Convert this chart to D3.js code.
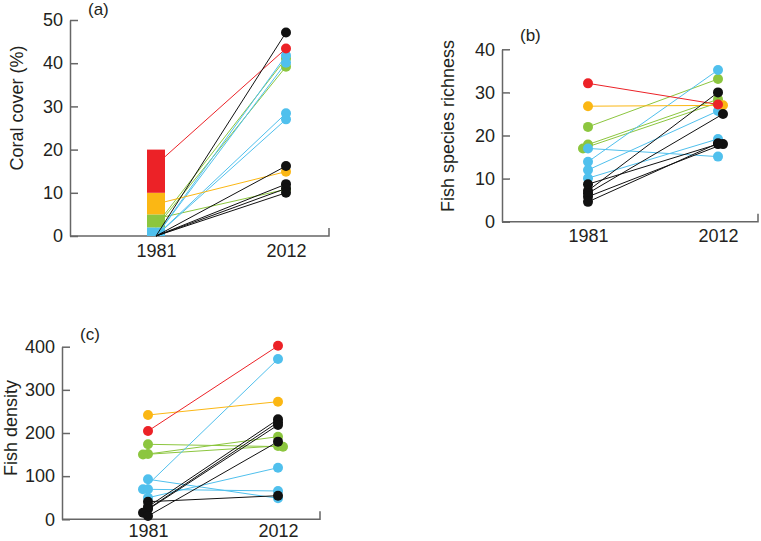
<!DOCTYPE html>
<html>
<head>
<meta charset="utf-8">
<script src="https://cdn.jsdelivr.net/npm/d3@7"></script>
<style>
  html, body { margin: 0; padding: 0; background: #fff; }
  svg { display: block; font-family: "Liberation Sans", Arial, Helvetica, sans-serif; }
</style>
</head>
<body>
<svg id="chart" width="761" height="541"></svg>
<script>
// ---------------- DATA ----------------
const years = ["1981", "2012"];
// site group (colour class) for each of the 14 sites
const siteGroups = ["red", "yellow", "green", "green", "green", "blue", "blue", "blue", "blue", "black", "black", "black", "black", "black"];

// (a) coral cover (%)
const coral1981 = [16.5, 7.4, 4.0, 2.5, 2.0, 0, 0, 0, 0, 0, 0, 0, 0, 0];
const coral2012 = [43.4, 14.9, 10.8, 41.1, 39.2, 41.8, 40.1, 28.4, 27.0, 47.1, 16.2, 12.0, 11.0, 10.0];
// 1981 coral cover classes shown as a stacked bar
const coralClassBounds = [0, 2, 5, 10, 20];
const coralClassGroups = ["blue", "green", "yellow", "red"];
const coralTicks = [0, 10, 20, 30, 40, 50];

// (b) fish species richness
const rich1981 = [32.1, 26.8, 22.0, 17.9, 17.0, 17.0, 13.9, 12.0, 10.1, 8.7, 7.2, 6.6, 5.8, 4.6];
const rich2012 = [27.2, 27.0, 33.1, 28.4, 27.6, 15.1, 35.2, 25.7, 19.2, 18.0, 30.0, 25.0, 18.0, 18.2];
const rich1981Dodge = [0, 0, 0, 0, -1, 0, 0, 0, 0, 0, 0, 0, 0, 0];
const rich2012Dodge = [0, 1, 0, 0, 0, 0, 0, 0, 0, 0, 0, 1, 1, 0];
const richTicks = [0, 10, 20, 30, 40];

// (c) fish density
const dens1981 = [204.6, 241.7, 173.8, 151.3, 150.0, 92.7, 69.5, 69.5, 50.0, 40.8, 29.0, 24.0, 15.3, 7.6];
const dens2012 = [402.0, 272.6, 168.3, 191.5, 170.0, 48.7, 371.5, 65.6, 119.6, 54.7, 231.7, 225.0, 218.5, 180.0];
const dens1981Dodge = [0, 0, 0, 0, -1, 0, -1, 0, 0, 0, 0, 0, -1, 0];
const dens2012Dodge = [0, 0, 1, 0, 0, 0, 0, 0, 0, 0, 0, 0, 0, 0];
const densTicks = [0, 100, 200, 300, 400];

// ---------------- STYLE ----------------
const palette = { red: "#ec2227", yellow: "#fbb714", green: "#8cc63f", blue: "#50c0ed", black: "#111111" };
const drawOrder = ["green", "blue", "yellow", "red", "black"];
const axisColor = "#666";
const textColor = "#231f20";

const svg = d3.select("#chart");

function panel(cfg) {
  const g = svg.append("g");
  const y = d3.scaleLinear().domain(cfg.domain).range([cfg.y0, cfg.y1]);
  const x = d3.scalePoint().domain(years).range([cfg.ax + 86, cfg.ax + 216]);
  const dodge = d3.scaleLinear().domain([-1, 1]).range([-5, 5]);

  // y axis
  const ya = g.append("g").attr("transform", `translate(${cfg.ax},0)`)
    .call(d3.axisLeft(y).tickValues(cfg.ticks).tickSizeInner(-8).tickSizeOuter(0).tickPadding(7));
  ya.select(".domain").attr("stroke", axisColor).attr("stroke-width", 1.5);
  ya.selectAll(".tick line").attr("stroke", axisColor).attr("stroke-width", 1.5);
  ya.selectAll(".tick text").attr("font-size", 18).attr("fill", textColor)
    .attr("font-family", "Liberation Sans, Arial, sans-serif");

  // x axis
  const xa = g.append("g").attr("transform", `translate(0,${cfg.y0})`)
    .call(d3.axisBottom(x).tickSize(0).tickPadding(cfg.xPad));
  xa.select(".domain").remove();
  xa.selectAll(".tick text").attr("font-size", 18).attr("fill", textColor)
    .attr("font-family", "Liberation Sans, Arial, sans-serif");
  g.append("path")
    .attr("d", `M${cfg.ax},${cfg.y0}H${cfg.xEnd}V${cfg.y0 - 8}`)
    .attr("fill", "none").attr("stroke", axisColor).attr("stroke-width", 1.5);

  // axis title
  g.append("text")
    .attr("transform", `translate(${cfg.titleX},${cfg.titleY}) rotate(-90)`)
    .attr("text-anchor", "middle").attr("font-size", 18).attr("fill", textColor)
    .text(cfg.title);
  // panel label
  g.append("text").attr("x", cfg.labX).attr("y", cfg.labY)
    .attr("font-size", 17).attr("fill", textColor).text(cfg.label);

  // stacked class bar (panel a)
  if (cfg.bar) {
    const bw = 18;
    coralClassGroups.forEach((grp, i) => {
      g.append("rect")
        .attr("x", x("1981") - bw / 2)
        .attr("width", bw)
        .attr("y", y(coralClassBounds[i + 1]))
        .attr("height", y(coralClassBounds[i]) - y(coralClassBounds[i + 1]))
        .attr("fill", palette[grp]);
    });
  }

  const idx = d3.range(siteGroups.length);
  const ordered = [];
  drawOrder.forEach(grp => idx.forEach(i => { if (siteGroups[i] === grp) ordered.push(i); }));

  // lines
  g.append("g").selectAll("line").data(ordered).join("line")
    .attr("x1", i => x("1981") + (cfg.d1 ? dodge(cfg.d1[i]) : 0))
    .attr("y1", i => y(cfg.v1[i]))
    .attr("x2", i => x("2012") + (cfg.d2 ? dodge(cfg.d2[i]) : 0))
    .attr("y2", i => y(cfg.v2[i]))
    .attr("stroke", i => palette[siteGroups[i]])
    .attr("stroke-width", 1);

  // dots
  const pts = [];
  ordered.forEach(i => {
    if (cfg.show1981) pts.push({ i, cx: x("1981") + (cfg.d1 ? dodge(cfg.d1[i]) : 0), cy: y(cfg.v1[i]) });
    pts.push({ i, cx: x("2012") + (cfg.d2 ? dodge(cfg.d2[i]) : 0), cy: y(cfg.v2[i]) });
  });
  g.append("g").selectAll("circle").data(pts).join("circle")
    .attr("cx", d => d.cx).attr("cy", d => d.cy).attr("r", 5)
    .attr("fill", d => palette[siteGroups[d.i]]);
}

panel({
  ax: 70, y0: 236, y1: 20, xEnd: 329, domain: [0, 50], ticks: coralTicks, xPad: 8,
  v1: coral1981, v2: coral2012, show1981: false, bar: true,
  title: "Coral cover (%)", titleX: 23, titleY: 108, label: "(a)", labX: 88, labY: 15
});
panel({
  ax: 502, y0: 221.7, y1: 49.3, xEnd: 758, domain: [0, 40], ticks: richTicks, xPad: 8,
  v1: rich1981, v2: rich2012, d1: rich1981Dodge, d2: rich2012Dodge, show1981: true,
  title: "Fish species richness", titleX: 454, titleY: 126, label: "(b)", labX: 520, labY: 41
});
panel({
  ax: 62, y0: 519.3, y1: 346.7, xEnd: 320, domain: [0, 400], ticks: densTicks, xPad: 5,
  v1: dens1981, v2: dens2012, d1: dens1981Dodge, d2: dens2012Dodge, show1981: true,
  title: "Fish density", titleX: 17, titleY: 428, label: "(c)", labX: 80, labY: 340
});
</script>
</body>
</html>
